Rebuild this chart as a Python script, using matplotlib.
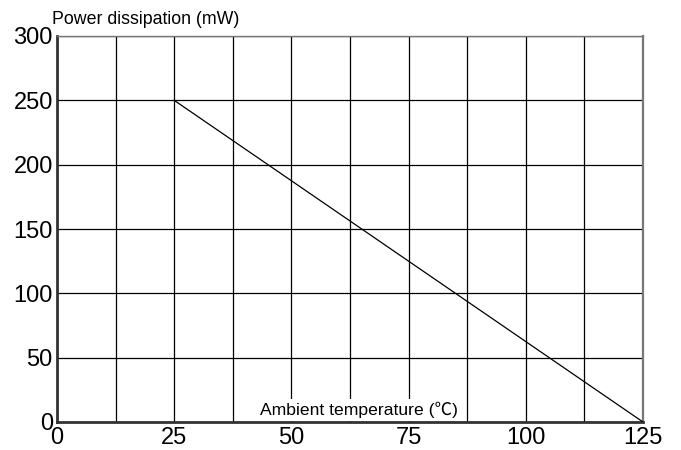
import numpy as np
import matplotlib.pyplot as plt
from matplotlib.ticker import MultipleLocator

# derating curve
temp = [25, 125]
power = [250, 0]

x_ticks = [0, 25, 50, 75, 100, 125]
y_ticks = [0, 50, 100, 150, 200, 250, 300]

fam = ['Liberation Sans', 'Noto Sans CJK SC', 'DejaVu Sans']
plt.rcParams['font.family'] = fam

fig = plt.figure(figsize=(6.81, 4.5), dpi=100)
ax = fig.add_axes([57 / 681, 1 - 422 / 450, 586 / 681, 386 / 450])

ax.set_xlim(0, 125)
ax.set_ylim(0, 300)
ax.set_xticks(x_ticks)
ax.set_yticks(y_ticks)
ax.xaxis.set_minor_locator(MultipleLocator(12.5))
ax.tick_params(which='both', length=0, labelsize=17)
ax.tick_params(axis='x', pad=3.5)
ax.tick_params(axis='y', pad=3)

ax.grid(True, which='both', axis='x', color='black', lw=0.9)
ax.grid(True, which='major', axis='y', color='black', lw=0.9)
ax.set_axisbelow(True)

for s in ['left', 'bottom']:
    ax.spines[s].set_linewidth(2)
    ax.spines[s].set_color('#333333')
ax.spines['right'].set_linewidth(1.6)
ax.spines['right'].set_color('#777777')
ax.spines['top'].set_linewidth(1.0)
ax.spines['top'].set_color('#777777')

ax.plot(temp, power, color='black', lw=0.9, zorder=3)

fig.text(52 / 681, 1 - 19 / 450, 'Power dissipation (mW)', fontsize=12.8,
         ha='left', va='center')
ax.text(0.515, 0.01, 'Ambient temperature (℃)', transform=ax.transAxes,
        fontsize=12.6, ha='center', va='bottom', zorder=4,
        bbox=dict(facecolor='white', edgecolor='none', pad=2))

fig.savefig('out.png', dpi=100)
